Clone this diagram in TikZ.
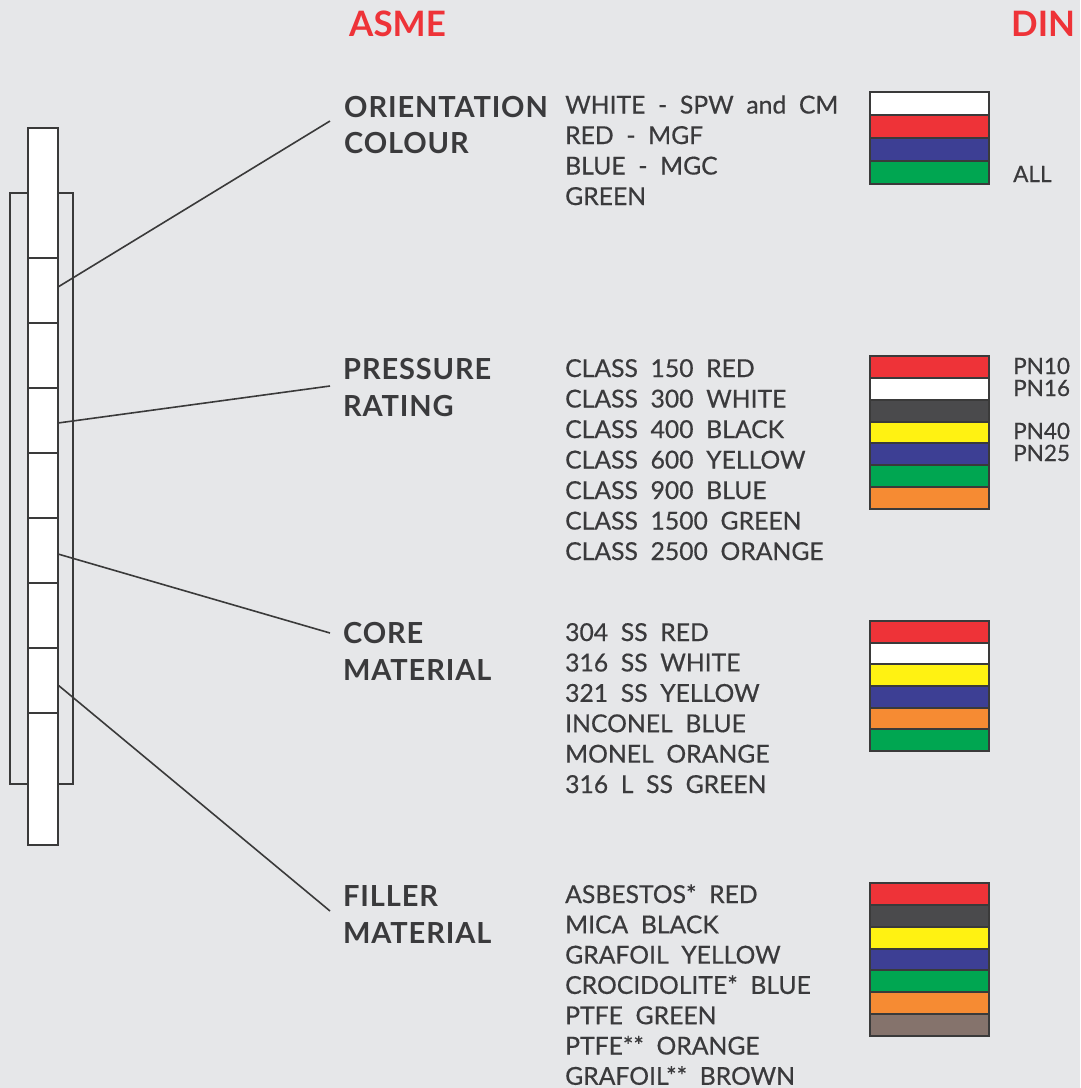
\documentclass[tikz,border=0pt]{standalone}
\usepackage{fontspec}
\setmainfont{Lato}
\newfontfamily\listfont[WordSpace=2, FakeBold=0.5]{Lato}
\newfontfamily\labfont[WordSpace=2, LetterSpace=3]{Lato Bold}
\newfontfamily\hdrfont{Lato Bold}
\definecolor{bgc}{HTML}{E6E7E9}
\definecolor{txt}{HTML}{3A3A3C}
\definecolor{hdr}{HTML}{EE3338}
\definecolor{swR}{HTML}{EE3338}
\definecolor{swW}{HTML}{FFFFFF}
\definecolor{swB}{HTML}{3D3F94}
\definecolor{swG}{HTML}{00A651}
\definecolor{swK}{HTML}{4A4A4C}
\definecolor{swY}{HTML}{FFF212}
\definecolor{swO}{HTML}{F68B33}
\definecolor{swN}{HTML}{85736C}
\definecolor{edge}{HTML}{3A3A3A}
\tikzset{
  hdrtext/.style={font=\hdrfont\fontsize{35}{35}\selectfont, text=hdr, inner sep=0pt, anchor=base west},
  cattext/.style={font=\labfont\fontsize{29}{36.5}\selectfont, text=txt, inner sep=0pt, anchor=base west},
  listtext/.style={font=\listfont\fontsize{24.7}{30}\selectfont, text=txt, inner sep=0pt, anchor=base west},
  dintext/.style={font=\listfont\fontsize{22.5}{24}\selectfont, text=txt, inner sep=0pt, anchor=base west},
  conn/.style={draw=edge, line width=1.6pt},
  barline/.style={draw=edge, line width=1.6pt},
  swedge/.style={draw=edge, line width=2pt}
}
\begin{document}
\begin{tikzpicture}[x=1pt,y=-1pt]
\fill[bgc] (0,0) rectangle (1080,1088);
\useasboundingbox (0,0) rectangle (1080,1088);

% headers
\node[hdrtext] (asme) at (349,36) {ASME};
\node[hdrtext] (din) at (1011,36) {DIN};

% left bar
\draw[barline] (10,193) rectangle (73,784);
\draw[barline, fill=white] (28,128) rectangle (58,845);
\foreach \yy in {258,323,388,453,518,583,648,713}
  \draw[barline] (28,\yy) -- (58,\yy);

% category labels
\node[cattext] (cat1a) at (344,117) {ORIENTATION};
\node[cattext] (cat1b) at (344,153) {COLOUR};
\node[cattext] (cat2a) at (343,379) {PRESSURE};
\node[cattext] (cat2b) at (343,416) {RATING};
\node[cattext] (cat3a) at (343,643) {CORE};
\node[cattext] (cat3b) at (343,680) {MATERIAL};
\node[cattext] (cat4a) at (343,906) {FILLER};
\node[cattext] (cat4b) at (343,943) {MATERIAL};

% connectors
\coordinate (p1) at (58,287);  \coordinate (q1) at (330,121);
\coordinate (p2) at (58,423);  \coordinate (q2) at (330,386);
\coordinate (p3) at (58,554);  \coordinate (q3) at (330,633);
\coordinate (p4) at (58,685);  \coordinate (q4) at (330,911);
\draw[conn] (p1) -- (q1);
\draw[conn] (p2) -- (q2);
\draw[conn] (p3) -- (q3);
\draw[conn] (p4) -- (q4);

% lists
\foreach \t [count=\i from 0] in {WHITE - SPW and CM, RED - MGF, BLUE - MGC, GREEN}
  \node[listtext] (la\i) at (565,{113.5+30.5*\i}) {\t};
\foreach \t [count=\i from 0] in {CLASS 150 RED, CLASS 300 WHITE, CLASS 400 BLACK, CLASS 600 YELLOW, CLASS 900 BLUE, CLASS 1500 GREEN, CLASS 2500 ORANGE}
  \node[listtext] (lb\i) at (565,{377+30.5*\i}) {\t};
\foreach \t [count=\i from 0] in {304 SS RED, 316 SS WHITE, 321 SS YELLOW, INCONEL BLUE, MONEL ORANGE, 316 L SS GREEN}
  \node[listtext] (lc\i) at (565,{641+30.4*\i}) {\t};
\foreach \t [count=\i from 0] in {ASBESTOS* RED, MICA BLACK, GRAFOIL YELLOW, CROCIDOLITE* BLUE, PTFE GREEN, PTFE** ORANGE, GRAFOIL** BROWN}
  \node[listtext] (ld\i) at (565,{903+30.3*\i}) {\t};

% swatches
\foreach \c [count=\i from 0] in {swW,swR,swB,swG}
  \draw[swedge, fill=\c] (870,{92+23*\i}) rectangle (989,{92+23*(\i+1)});
\foreach \c [count=\i from 0] in {swR,swW,swK,swY,swB,swG,swO}
  \draw[swedge, fill=\c] (870,{356+21.86*\i}) rectangle (989,{356+21.86*(\i+1)});
\foreach \c [count=\i from 0] in {swR,swW,swY,swB,swO,swG}
  \draw[swedge, fill=\c] (870,{621+21.67*\i}) rectangle (989,{621+21.67*(\i+1)});
\foreach \c [count=\i from 0] in {swR,swK,swY,swB,swG,swO,swN}
  \draw[swedge, fill=\c] (870,{883+21.86*\i}) rectangle (989,{883+21.86*(\i+1)});

% DIN labels
\node[dintext] (all) at (1013,182) {ALL};
\node[dintext] (pn10) at (1013,374) {PN10};
\node[dintext] (pn16) at (1013,396) {PN16};
\node[dintext] (pn40) at (1013,439) {PN40};
\node[dintext] (pn25) at (1013,461) {PN25};
\end{tikzpicture}
\end{document}
